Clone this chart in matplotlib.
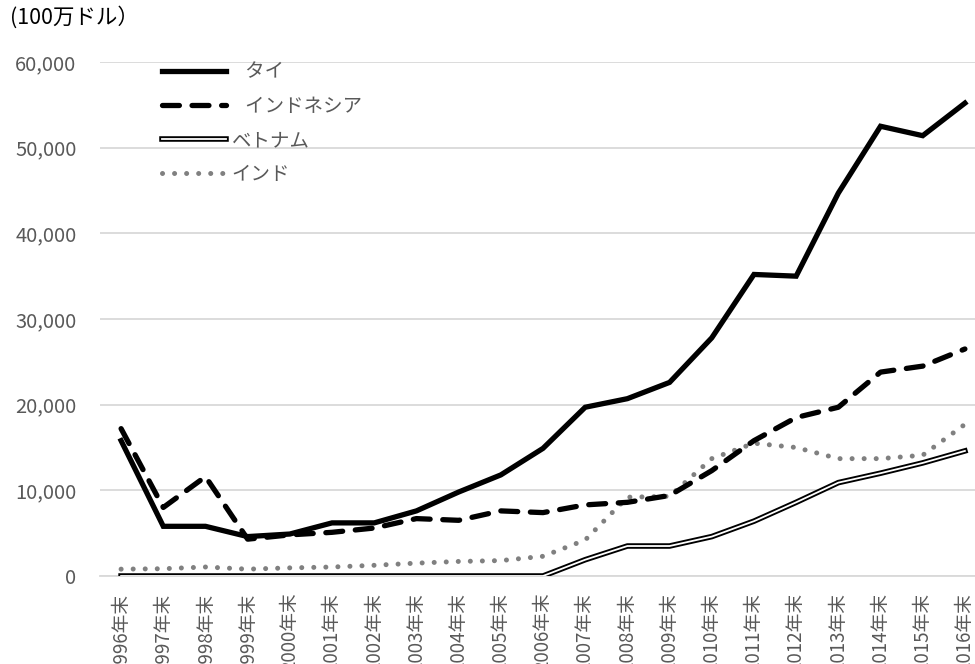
import matplotlib
matplotlib.use("Agg")
import matplotlib.pyplot as plt
import matplotlib.patheffects as pe
from matplotlib.ticker import FuncFormatter

plt.rcParams['font.family'] = ['Noto Sans CJK JP', 'DejaVu Sans']

# 残高データ（100万ドル）
years = [f"{y}年末" for y in range(1996, 2017)]
thailand = [15800, 5800, 5800, 4600, 4900, 6200, 6200, 7600, 9800, 11800, 14900,
            19700, 20700, 22600, 27800, 35200, 35000, 44700, 52500, 51400, 55200]
indonesia = [17200, 8000, 11600, 4300, 4800, 5100, 5600, 6700, 6500, 7600, 7400,
             8300, 8600, 9400, 12300, 15800, 18500, 19700, 23800, 24500, 26500]
vietnam = [0, 0, 0, 0, 0, 0, 0, 0, 0, 0, 0,
           1900, 3500, 3500, 4600, 6400, 8600, 10900, 12000, 13200, 14600]
india = [800, 850, 1050, 800, 950, 1050, 1250, 1500, 1700, 1800, 2300,
         4200, 9200, 9300, 13700, 15500, 15000, 13700, 13700, 14100, 17700]

grey = '#595959'

fig = plt.figure(figsize=(9.75, 6.64), dpi=100)
ax = fig.add_axes([100 / 975, 88 / 664, 886 / 975, 514 / 664])

x = list(range(len(years)))
ax.plot(x, thailand, color='black', lw=3.8, solid_joinstyle='miter', label='   タイ', zorder=5)
ax.plot(x, indonesia, color='black', lw=3.8, dashes=(3.2, 2.4), dash_capstyle='round',
        label='   インドネシア', zorder=4)
ax.plot(x, vietnam, color='white', lw=1.3, label='ベトナム', zorder=3,
        path_effects=[pe.Stroke(linewidth=4.0, foreground='black'), pe.Normal()])
ax.plot(x, india, color='#808080', lw=3.6, dashes=(0.01, 2.4), dash_capstyle='round',
        label='インド', zorder=2)

ax.set_xlim(-0.5, len(years) - 0.5)
ax.set_ylim(0, 60000)
ax.set_yticks(range(0, 60001, 10000))
ax.yaxis.set_major_formatter(FuncFormatter(lambda v, p: f"{int(v):,}"))
ax.set_xticks(x)
ax.set_xticklabels(years, rotation=90, va='top', ha='center')

ax.grid(axis='y', color='#d9d9d9', lw=1.3)
ax.set_axisbelow(True)
for s in ['top', 'right', 'left']:
    ax.spines[s].set_visible(False)
ax.spines['bottom'].set_color('#d9d9d9')
ax.spines['bottom'].set_linewidth(1.3)
ax.tick_params(axis='y', length=0, colors=grey, labelsize=14.5, pad=17)
ax.tick_params(axis='x', length=0, colors=grey, labelsize=13.5, pad=12)

leg = ax.legend(loc='upper left', bbox_to_anchor=(0.05, 1.035), frameon=False, fontsize=14,
                handlelength=3.3, handletextpad=0.3, labelspacing=0.68)
for t in leg.get_texts():
    t.set_color(grey)

fig.text(10 / 975, 1 - 17 / 664, '(100万ドル）', fontsize=15.5, color='black', va='center')

fig.savefig('out.png', dpi=100)
